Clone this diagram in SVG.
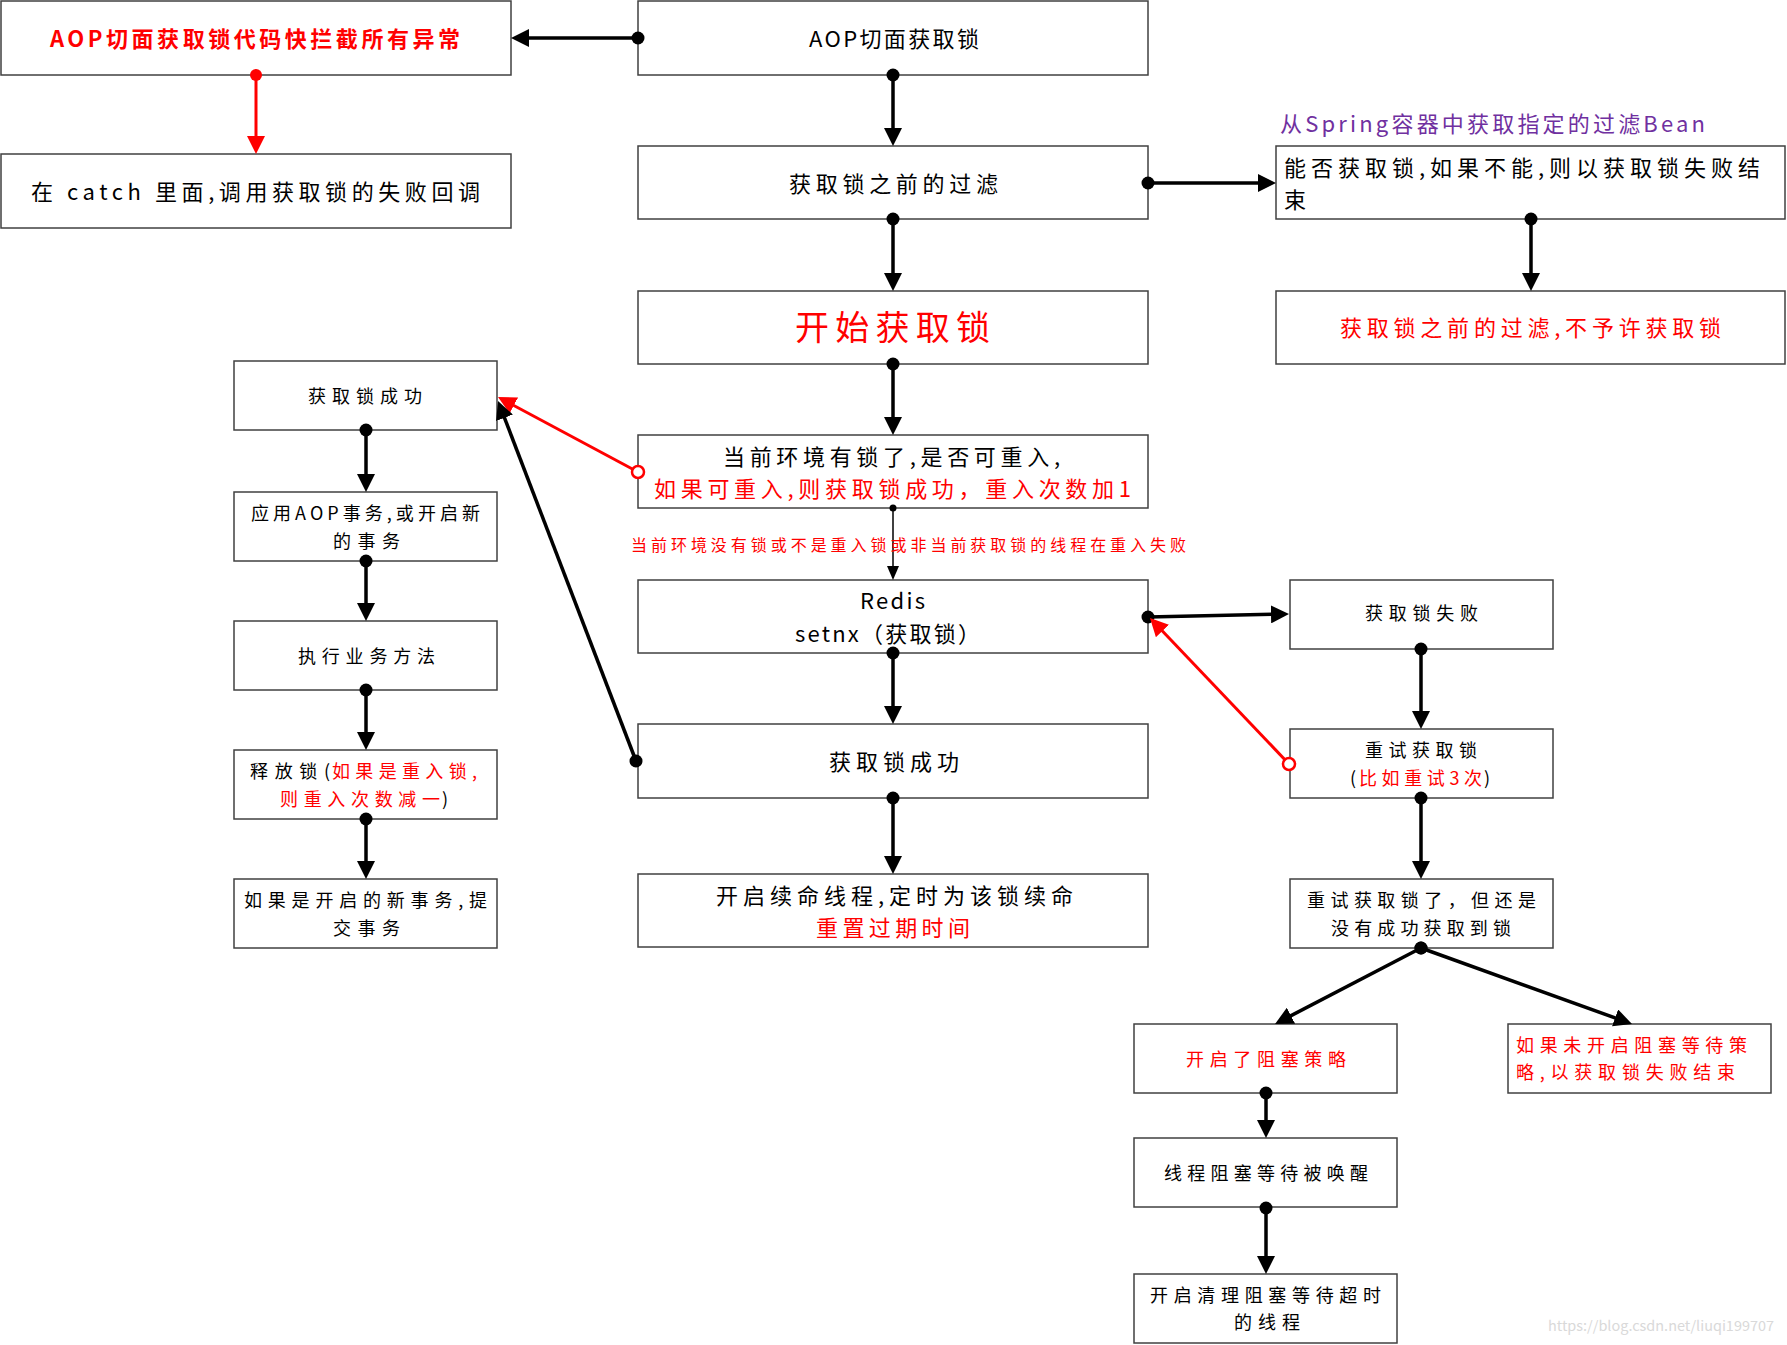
<svg xmlns="http://www.w3.org/2000/svg" width="1787" height="1345" viewBox="0 0 1787 1345">
<style>
.box{fill:#fff;stroke:#404040;stroke-width:1.5}
text{font-family:"Noto Sans CJK SC","Noto Sans",sans-serif;dominant-baseline:central}
.t22{font-size:22px;fill:#000}
.t18{font-size:18px;fill:#000}
.red{fill:#ff0000}
.purple{fill:#7030a0}
.ln{fill:none;stroke:#000;stroke-width:3.5}
.lr{fill:none;stroke:#ff0000;stroke-width:3}
.lt{fill:none;stroke:#000;stroke-width:1.5}
</style>
<defs>
<marker id="arrow" markerUnits="userSpaceOnUse" markerWidth="18" markerHeight="18" viewBox="0 0 18 18" refX="8" refY="9" orient="auto"><path d="M0,0 L18,9 L0,18 z" fill="#000"/></marker>
<marker id="arrowRed" markerUnits="userSpaceOnUse" markerWidth="18" markerHeight="18" viewBox="0 0 18 18" refX="8" refY="9" orient="auto"><path d="M0,0 L18,9 L0,18 z" fill="#ff0000"/></marker>
<marker id="arrowS" markerUnits="userSpaceOnUse" markerWidth="14" markerHeight="12" viewBox="0 0 14 12" refX="4" refY="6" orient="auto"><path d="M0,0 L14,6 L0,12 z" fill="#000"/></marker>
<marker id="dot" markerUnits="userSpaceOnUse" markerWidth="16" markerHeight="16" viewBox="-8 -8 16 16" refX="0" refY="0"><circle r="6.5" fill="#000"/></marker>
<marker id="dotS" markerUnits="userSpaceOnUse" markerWidth="10" markerHeight="10" viewBox="-5 -5 10 10" refX="0" refY="0"><circle r="3.5" fill="#000"/></marker>
<marker id="dotRed" markerUnits="userSpaceOnUse" markerWidth="16" markerHeight="16" viewBox="-8 -8 16 16" refX="0" refY="0"><circle r="6" fill="#ff0000"/></marker>
<marker id="ringRed" markerUnits="userSpaceOnUse" markerWidth="18" markerHeight="18" viewBox="-9 -9 18 18" refX="0" refY="0"><circle r="6" fill="#fff" stroke="#ff0000" stroke-width="2.5"/></marker>
</defs>
<rect width="1787" height="1345" fill="#fff"/>

<g id="nodeA"><rect class="box" x="1" y="1" width="510" height="74"/>
<text class="t22 red" x="50" y="37" font-weight="bold" textLength="410" lengthAdjust="spacing">AOP切面获取锁代码快拦截所有异常</text></g>
<g id="nodeB"><rect class="box" x="1" y="154" width="510" height="74"/>
<text class="t22" x="31" y="190" textLength="449" lengthAdjust="spacing">在 catch 里面,调用获取锁的失败回调</text></g>
<g id="nodeC"><rect class="box" x="638" y="1" width="510" height="74"/>
<text class="t22" x="809" y="37" textLength="170" lengthAdjust="spacing">AOP切面获取锁</text></g>
<g id="nodeD"><rect class="box" x="638" y="146" width="510" height="73"/>
<text class="t22" x="789" y="182" textLength="209" lengthAdjust="spacing">获取锁之前的过滤</text></g>
<g id="nodeE"><rect class="box" x="638" y="291" width="510" height="73"/>
<text class="red" x="795" y="325" font-size="34" textLength="195" lengthAdjust="spacing">开始获取锁</text></g>
<g id="nodeF"><rect class="box" x="638" y="435" width="510" height="73"/>
<text class="t22" x="723" y="455" textLength="337" lengthAdjust="spacing">当前环境有锁了,是否可重入,</text>
<text class="t22 red" x="654" y="487" textLength="477" lengthAdjust="spacing">如果可重入,则获取锁成功，重入次数加1</text></g>
<g id="nodeG"><rect class="box" x="638" y="580" width="510" height="73"/>
<text class="t22" x="860" y="599" textLength="65" lengthAdjust="spacing">Redis</text>
<text class="t22" x="795" y="632" textLength="185" lengthAdjust="spacing">setnx（获取锁）</text></g>
<g id="nodeH"><rect class="box" x="638" y="724" width="510" height="74"/>
<text class="t22" x="829" y="760" textLength="130" lengthAdjust="spacing">获取锁成功</text></g>
<g id="nodeI"><rect class="box" x="638" y="874" width="510" height="73"/>
<text class="t22" x="716" y="894" textLength="357" lengthAdjust="spacing">开启续命线程,定时为该锁续命</text>
<text class="t22 red" x="816" y="926" textLength="154" lengthAdjust="spacing">重置过期时间</text></g>
<g id="nodeJ"><rect class="box" x="1276" y="146" width="509" height="73"/>
<text class="t22" x="1284" y="166" textLength="476" lengthAdjust="spacing">能否获取锁,如果不能,则以获取锁失败结</text>
<text class="t22" x="1284" y="198">束</text></g>
<g id="labelSpring"><text class="t22 purple" x="1280" y="122" textLength="425" lengthAdjust="spacing">从Spring容器中获取指定的过滤Bean</text></g>
<g id="nodeK"><rect class="box" x="1276" y="291" width="509" height="73"/>
<text class="t22 red" x="1340" y="326" textLength="381" lengthAdjust="spacing">获取锁之前的过滤,不予许获取锁</text></g>

<g id="nodeL1"><rect class="box" x="234" y="361" width="263" height="69"/>
<text class="t18" x="308" y="395" textLength="114" lengthAdjust="spacing">获取锁成功</text></g>
<g id="nodeL2"><rect class="box" x="234" y="492" width="263" height="69"/>
<text class="t18" x="251" y="512" textLength="229" lengthAdjust="spacing">应用AOP事务,或开启新</text>
<text class="t18" x="333" y="540" textLength="67" lengthAdjust="spacing">的事务</text></g>
<g id="nodeL3"><rect class="box" x="234" y="621" width="263" height="69"/>
<text class="t18" x="298" y="655" textLength="137" lengthAdjust="spacing">执行业务方法</text></g>
<g id="nodeL4"><rect class="box" x="234" y="750" width="263" height="69"/>
<text class="t18" x="250" y="770" textLength="80" lengthAdjust="spacing">释放锁(</text>
<text class="t18 red" x="332" y="770" textLength="145" lengthAdjust="spacing">如果是重入锁,</text>
<text class="t18 red" x="280" y="798" textLength="160" lengthAdjust="spacing">则重入次数减一</text>
<text class="t18" x="442" y="798">)</text></g>
<g id="nodeL5"><rect class="box" x="234" y="879" width="263" height="69"/>
<text class="t18" x="244" y="899" textLength="243" lengthAdjust="spacing">如果是开启的新事务,提</text>
<text class="t18" x="333" y="927" textLength="67" lengthAdjust="spacing">交事务</text></g>

<g id="nodeR1"><rect class="box" x="1290" y="580" width="263" height="69"/>
<text class="t18" x="1365" y="612" textLength="113" lengthAdjust="spacing">获取锁失败</text></g>
<g id="nodeR2"><rect class="box" x="1290" y="729" width="263" height="69"/>
<text class="t18" x="1365" y="749" textLength="112" lengthAdjust="spacing">重试获取锁</text>
<text class="t18" x="1350" y="777">(</text>
<text class="t18 red" x="1359" y="777" textLength="123" lengthAdjust="spacing">比如重试3次</text>
<text class="t18" x="1484" y="777">)</text></g>
<g id="nodeR3"><rect class="box" x="1290" y="879" width="263" height="69"/>
<text class="t18" x="1307" y="899" textLength="229" lengthAdjust="spacing">重试获取锁了，但还是</text>
<text class="t18" x="1331" y="927" textLength="180" lengthAdjust="spacing">没有成功获取到锁</text></g>
<g id="nodeR4"><rect class="box" x="1134" y="1024" width="263" height="69"/>
<text class="t18 red" x="1186" y="1058" textLength="160" lengthAdjust="spacing">开启了阻塞策略</text></g>
<g id="nodeR5"><rect class="box" x="1508" y="1024" width="263" height="69"/>
<text class="t18 red" x="1516" y="1044" textLength="231" lengthAdjust="spacing">如果未开启阻塞等待策</text>
<text class="t18 red" x="1516" y="1071" textLength="219" lengthAdjust="spacing">略,以获取锁失败结束</text></g>
<g id="nodeR6"><rect class="box" x="1134" y="1138" width="263" height="69"/>
<text class="t18" x="1164" y="1172" textLength="204" lengthAdjust="spacing">线程阻塞等待被唤醒</text></g>
<g id="nodeR7"><rect class="box" x="1134" y="1274" width="263" height="69"/>
<text class="t18" x="1150" y="1294" textLength="231" lengthAdjust="spacing">开启清理阻塞等待超时</text>
<text class="t18" x="1234" y="1321" textLength="66" lengthAdjust="spacing">的线程</text></g>

<g id="connectors">
<path class="ln" d="M638,38 L521,38" marker-start="url(#dot)" marker-end="url(#arrow)"/>
<path class="lr" d="M256,75 L256,144" marker-start="url(#dotRed)" marker-end="url(#arrowRed)"/>
<path class="ln" d="M893,75 L893,136" marker-start="url(#dot)" marker-end="url(#arrow)"/>
<path class="ln" d="M1148,183 L1266,183" marker-start="url(#dot)" marker-end="url(#arrow)"/>
<path class="ln" d="M893,219 L893,281" marker-start="url(#dot)" marker-end="url(#arrow)"/>
<path class="ln" d="M1531,219 L1531,281" marker-start="url(#dot)" marker-end="url(#arrow)"/>
<path class="ln" d="M893,364 L893,425" marker-start="url(#dot)" marker-end="url(#arrow)"/>
<path class="lr" d="M638,472 L506.8,401.7" marker-start="url(#ringRed)" marker-end="url(#arrowRed)"/>
<path class="lt" d="M893,508 L893,570" marker-start="url(#dotS)" marker-end="url(#arrowS)"/>
<path class="ln" d="M893,653 L893,714" marker-start="url(#dot)" marker-end="url(#arrow)"/>
<path class="ln" d="M893,798 L893,864" marker-start="url(#dot)" marker-end="url(#arrow)"/>
<path class="ln" d="M636,761 L501.6,410.3" marker-start="url(#dot)" marker-end="url(#arrow)"/>
<path class="ln" d="M1148,617 L1279,614.2" marker-start="url(#dot)" marker-end="url(#arrow)"/>
<path class="lr" d="M1289,764 L1156.9,625.2" marker-start="url(#ringRed)" marker-end="url(#arrowRed)"/>
<path class="ln" d="M1421,649 L1421,719" marker-start="url(#dot)" marker-end="url(#arrow)"/>
<path class="ln" d="M1421,798 L1421,869" marker-start="url(#dot)" marker-end="url(#arrow)"/>
<path class="ln" d="M1421,948 L1283.9,1019.4" marker-start="url(#dot)" marker-end="url(#arrow)"/>
<path class="ln" d="M1421,948 L1622.6,1020.6" marker-start="url(#dot)" marker-end="url(#arrow)"/>
<path class="ln" d="M1266,1093 L1266,1128" marker-start="url(#dot)" marker-end="url(#arrow)"/>
<path class="ln" d="M1266,1208 L1266,1264" marker-start="url(#dot)" marker-end="url(#arrow)"/>
<path class="ln" d="M366,430 L366,482" marker-start="url(#dot)" marker-end="url(#arrow)"/>
<path class="ln" d="M366,561 L366,611" marker-start="url(#dot)" marker-end="url(#arrow)"/>
<path class="ln" d="M366,690 L366,740" marker-start="url(#dot)" marker-end="url(#arrow)"/>
<path class="ln" d="M366,819 L366,869" marker-start="url(#dot)" marker-end="url(#arrow)"/>
<text class="red" x="631" y="544" font-size="16" textLength="555" lengthAdjust="spacing">当前环境没有锁或不是重入锁或非当前获取锁的线程在重入失败</text>
</g>

<g id="watermark"><text x="1774" y="1325" font-size="14" fill="#d9d9d9" text-anchor="end" textLength="226" lengthAdjust="spacingAndGlyphs">https://blog.csdn.net/liuqi199707</text></g>
</svg>
